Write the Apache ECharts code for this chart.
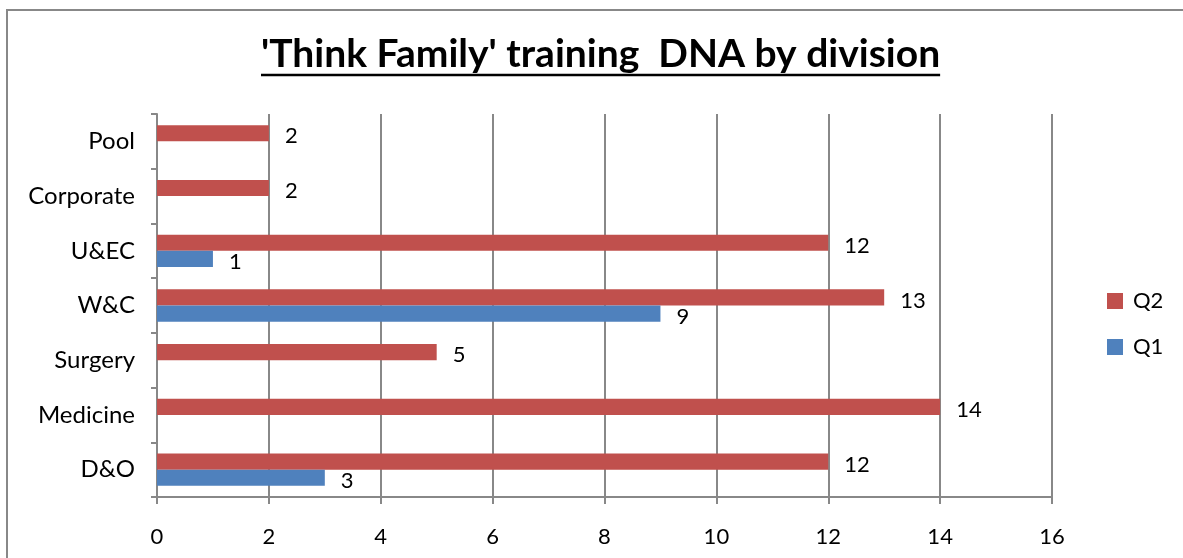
<!DOCTYPE html>
<html>
<head>
<meta charset="utf-8">
<script src="https://cdn.jsdelivr.net/npm/echarts@6/dist/echarts.min.js"></script>
<style>
html,body{margin:0;padding:0;background:#fff;}
#chart{width:1183px;height:558px;}
</style>
</head>
<body>
<div id="chart"></div>
<script>
const titleText = "'Think Family' training  DNA by division";
const categories = ['D&O', 'Medicine', 'Surgery', 'W&C', 'U&EC', 'Corporate', 'Pool'];
const q1Values = [3, null, null, 9, 1, null, null];
const q2Values = [12, 14, 5, 13, 12, 2, 2];
const xTicks = [0, 2, 4, 6, 8, 10, 12, 14, 16];

const FONT = 'Lato';
const TITLE_SIZE = 39;
const TITLE_LEFT = 261;
const chart = echarts.init(document.getElementById('chart'), null, {renderer: 'canvas'});

const labelCfg = {
  show: true,
  position: 'right',
  distance: 16,
  offset: [0, 3],
  color: '#000',
  fontFamily: FONT,
  fontSize: 22,
  formatter: p => (p.value == null ? '' : p.value)
};

// measure title width for the underline
const cv = document.createElement('canvas').getContext('2d');
cv.font = 'bold ' + TITLE_SIZE + 'px ' + FONT;
const titleW = cv.measureText(titleText).width;

chart.setOption({
  animation: false,
  title: {
    text: titleText,
    left: TITLE_LEFT - 5,
    top: 30,
    textStyle: {fontFamily: FONT, fontWeight: 'bold', fontSize: TITLE_SIZE, color: '#000'}
  },
  legend: {
    data: ['Q2', 'Q1'],
    orient: 'vertical',
    left: 1102,
    top: 285,
    itemWidth: 16,
    itemHeight: 16,
    itemGap: 24,
    icon: 'rect',
    textStyle: {fontFamily: FONT, fontSize: 22, color: '#000', padding: [0, 0, 0, 5]}
  },
  grid: {left: 157, right: 131, top: 114, bottom: 61, containLabel: false},
  xAxis: {
    type: 'value',
    min: xTicks[0],
    max: xTicks[xTicks.length - 1],
    interval: 2,
    axisLine: {show: true, lineStyle: {color: '#888', width: 2}},
    axisTick: {show: true, length: 7, lineStyle: {color: '#888', width: 2}},
    axisLabel: {fontFamily: FONT, fontSize: 22, color: '#000', margin: 29},
    splitLine: {show: true, lineStyle: {color: '#888', width: 2}}
  },
  yAxis: {
    type: 'category',
    data: categories,
    axisLine: {show: true, lineStyle: {color: '#888', width: 2}},
    axisTick: {show: true, length: 6, lineStyle: {color: '#888', width: 2}},
    axisLabel: {fontFamily: FONT, fontSize: 24, color: '#000', margin: 22},
    splitLine: {show: false}
  },
  series: [
    {
      name: 'Q2', type: 'bar', data: q2Values,
      itemStyle: {color: '#C0504D'},
      barGap: '0%', barCategoryGap: '41%',
      label: labelCfg
    },
    {
      name: 'Q1', type: 'bar', data: q1Values,
      itemStyle: {color: '#4F81BD'},
      barGap: '0%', barCategoryGap: '41%',
      label: labelCfg
    }
  ],
  graphic: [
    {type: 'polyline', shape: {points: [[7, 600], [7, 10], [1190, 10]]}, style: {stroke: '#888', lineWidth: 2, fill: null}},
    {type: 'line', shape: {x1: TITLE_LEFT, y1: 75, x2: TITLE_LEFT + titleW, y2: 75}, style: {stroke: '#000', lineWidth: 2.5}}
  ]
});
</script>
</body>
</html>
